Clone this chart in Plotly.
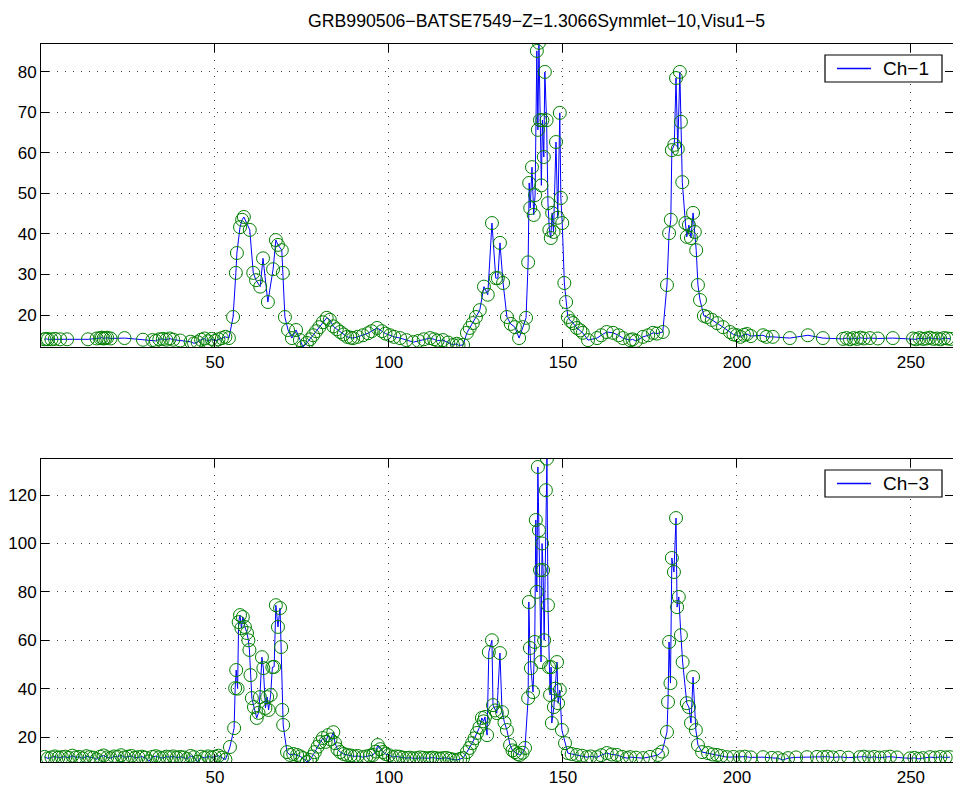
import plotly.graph_objects as go

TITLE = "GRB990506\u2212BATSE7549\u2212Z=1.3066Symmlet\u221210,Visu1\u22125"
NAME1 = "Ch\u22121"
NAME3 = "Ch\u22123"

x_top = [1, 1.5, 2, 3, 4, 5.5, 7.5, 13.5, 16, 17, 17.5, 18, 18.5, 19, 20, 24, 29.3,
         32, 33, 34, 35, 36, 37, 38, 40, 43, 44, 45, 46, 47, 48, 49, 50, 51, 52, 53, 54,
         55.2, 56, 56.3, 57.2, 57.8, 58.3, 60, 61, 61.8, 63, 63.8, 65.2, 66.7, 67.5, 68.1,
         69.2, 69.5, 70.1, 71, 72.1, 73.3, 74.4, 75.3, 76.4, 77.3, 78.2, 79.1, 80, 81, 82.1,
         83, 84, 85, 86, 87, 88, 89, 89.7, 91, 92.5, 94, 95, 96.6, 98, 99, 100.3, 101.5,
         103.2, 105, 107, 108.5, 110, 111.8, 113, 114, 115.5, 117, 118.4, 119.5, 120, 121.3,
         122.4, 123.2, 124.1, 125, 126.1, 127.3, 128.4, 129.6, 130.7, 131.3, 131.9, 132.8,
         133.9, 135, 136.2, 137.4, 138.5, 139.4, 140.0, 140.3, 140.6, 141.1, 141.6, 142.0,
         142.5, 142.8, 143.1, 143.4, 143.8, 144.1, 144.5, 144.8, 145.3, 145.7, 146.1, 146.5,
         146.9, 147.3, 148.0, 148.5, 149.1, 149.4, 149.8, 150.4, 150.9, 151.4, 152.2, 152.9,
         154, 155, 155.7, 157.2, 159.8, 161, 162.6, 164.4, 166, 167.2, 169.3, 170, 171, 173,
         174.5, 175.9, 177, 178.7, 179.9, 180.5, 181, 181.3, 182, 182.5, 183, 183.6, 183.9,
         184.3, 185.2, 185.6, 186.2, 186.8, 187.4, 187.9, 188.3, 188.8, 189.4, 190.5, 191.4,
         192.8, 194.3, 196, 198, 199, 200, 201, 202, 202.9, 204, 207.5, 208.5, 210.3, 215.2,
         220.4, 224.7, 230.5, 231.5, 232.5, 233.5, 234.5, 235.5, 236.5, 238.2, 240.5, 244.8,
         250.6, 251.5, 252.5, 253.5, 254.5, 255.5, 256.5, 257.5, 258.5, 259.5, 260.5, 261.5]
y_top = [14.0, 14.1, 14.0, 14.0, 14.1, 14.0, 14.0, 14.0, 14.2, 14.3, 14.4, 14.2, 14.3, 14.4, 14.2, 14.3, 13.9,
         13.8, 13.6, 14.0, 14.1, 13.9, 14.2, 13.9, 13.7, 13.4, 13.0, 13.3, 13.9, 14.2, 13.5, 14.1, 13.6, 14.0, 14.3, 14.6, 14.3,
         19.5, 30.4, 35.3, 41.7, 43.5, 44.2, 41.0, 30.4, 28.6, 27.0, 34.0, 23.2, 31.3, 38.5, 37.3,
         36.0, 30.4, 19.5, 16.3, 14.3, 16.3, 13.8, 12.1, 13.1, 14.0, 15.0, 16.0, 17.0, 18.2, 19.3,
         18.8, 17.2, 16.5, 15.8, 15.2, 14.6, 14.4, 14.3, 14.6, 15.0, 15.5, 16.0, 16.8, 16.0, 15.4, 15.0, 14.6,
         14.3, 13.8, 13.3, 13.6, 14.0, 14.3, 14.0, 13.7, 13.8, 13.2, 12.6, 12.9, 12.5, 12.6,
         15.6, 16.8, 18.0, 19.5, 21.2, 27.0, 25.0, 42.7, 29.1, 29.1, 37.8, 27.9,
         19.5, 17.8, 17.0, 14.3, 17.0, 19.3, 33.0, 52.6, 46.4, 56.5, 44.7, 49.6,
         85.2, 65.7, 87.2, 68.1, 52.0, 68.1, 59.0, 80.0, 68.1, 47.6, 41.0, 39.0,
         45.2, 40.5, 62.7, 44.0, 69.9, 48.9, 42.7, 27.9, 23.2, 19.5, 18.5, 18.0,
         16.8, 16.2, 15.6, 13.8, 14.3, 15.0, 15.8, 15.6, 15.0, 14.3, 13.8, 14.0, 13.6, 14.6,
         15.0, 15.6, 15.4, 15.8, 27.4, 40.2, 43.5, 60.7, 62.0, 78.5, 61.0, 80.0, 67.7,
         52.8, 42.7, 39.3, 42.2, 39.0, 45.2, 40.5, 36.0, 27.4, 23.7, 19.8, 19.5,
         18.8, 18.0, 17.0, 15.8, 15.2, 15.0, 14.6, 15.1, 15.3, 14.8, 15.0, 14.6, 14.6, 14.3,
         15.0, 14.3, 14.1, 14.3, 14.0, 14.3, 14.1, 14.4, 14.2, 14.3, 14.2, 14.3,
         14.2, 14.0, 14.3, 14.1, 14.2, 14.4, 14.1, 14.2, 14.0, 14.3, 14.2, 14.1]

x_bot = [1, 2, 3, 4, 5, 6, 7, 8, 9, 10, 11, 12, 13, 14, 15, 16, 17, 18, 19, 20, 21, 22, 23, 24, 25,
         26, 27, 28, 29, 30, 31, 32, 33, 34, 35, 36, 37, 38, 39, 40, 41, 42, 43, 44, 45, 46, 47, 48,
         49, 50, 51, 52, 53,
         54.3, 55.5, 55.8, 56.1, 56.5, 56.8, 57.2, 57.6, 58, 58.6, 59.2, 59.6, 59.9, 60.2, 60.6, 61.2,
         62, 62.5, 62.9, 63.5, 63.9, 64.5, 65, 65.4, 66, 66.5, 67, 67.5, 68.1, 68.7, 69.0, 69.3, 69.6,
         70.7, 71.6, 72.5, 73.6, 74.5, 75.3, 76.4, 77.3, 78, 78.7, 79.5, 80.2, 81, 81.8, 82.5, 83.2,
         84, 84.5, 85.2, 86, 87, 88, 89, 90, 91, 92.5, 93.5, 94.5, 95.4, 96.2, 96.8, 97.5, 98.3, 99,
         100, 101.1, 102, 103, 104, 105.2, 106, 107, 108, 109, 110, 111, 111.8, 112.5, 113.5, 114.5,
         115.5, 116.5, 117.5, 118.5, 119.5, 120.5, 121.3, 122.4, 123.2, 123.9, 124.6, 125.3, 126,
         126.7, 127.2, 127.6, 128.2, 128.7, 129.6, 129.9, 130.5, 131, 131.9, 132.5, 133.2, 133.9,
         134.8, 135.5, 136.2, 137, 137.6, 138.4, 139.1, 140, 140.2, 140.5, 140.8, 141.4, 141.9,
         142.2, 142.5, 142.8, 143.1, 143.4, 143.7, 144.0, 144.3, 144.6, 145.1, 145.4, 145.7, 146,
         146.3, 146.6, 146.8, 147.4, 147.8, 148.3, 148.6, 149.1, 149.7, 150.6, 151.4, 152.5, 154,
         155.5, 156.9, 158, 159.8, 161, 162.6, 164, 165.5, 167, 168.4, 169.3, 171, 173, 175, 177.3,
         178.5, 179.9, 180.2, 180.5, 180.9, 181.3, 181.9, 182.5, 182.8, 183.3, 183.9, 184.4, 185.6,
         186.2, 186.8, 187.4, 188.2, 188.8, 190, 191.7, 193, 194.3, 195.5, 197.1, 199, 200.9, 202.3,
         204, 207.5, 210, 211.8, 213.2, 214.7, 217, 220.1, 223, 224.7, 226, 227.5, 229.6, 232, 235.3,
         236.5, 238, 239.5, 241, 242.5, 244, 246, 249.7, 251, 252.2, 253.4, 255.5, 257, 258.5, 260,
         261.2]
y_bot = [11.8, 11.2, 11.6, 12.0, 11.5, 11.7, 11.9, 11.4, 12.3, 11.6, 11.8, 11.2, 12.1, 11.7, 11.5,
         10.8, 11.9, 12.4, 11.6, 11.3, 12.0, 11.8, 12.5, 11.6, 11.9, 12.2, 11.4, 11.7, 11.9, 11.5,
         10.0, 11.8, 12.1, 11.6, 11.3, 11.9, 11.7, 12.0, 11.5, 11.8, 11.6, 10.9, 12.2, 11.7, 9.8,
         11.9, 11.4, 12.0, 11.6, 11.9, 12.3, 11.5, 10.7,
         15.9, 23.7, 40.2, 47.7, 40.0, 67.5, 70.4, 65.0, 69.6, 65.5, 63.0, 60.0, 56.0, 45.6, 36.1, 32.4,
         27.9, 30.0, 36.5, 53.0, 48.5, 32.0, 36.5, 31.2, 37.4, 48.9, 49.0, 74.5, 65.5, 73.3, 57.2, 31.2, 25.0,
         13.8, 12.6, 13.0, 12.6, 12.0, 11.3, 9.7, 10.5, 12.0, 13.8, 16.0, 17.9, 19.6, 18.0, 20.8, 19.0,
         22.0, 17.5, 15.0, 13.8, 13.0, 12.6, 12.4, 12.0, 12.2, 11.7, 12.0, 12.3, 12.6, 14.0, 16.7, 15.0, 13.8, 13.0,
         12.5, 11.7, 12.0, 11.9, 11.5, 11.3, 11.5, 11.2, 11.3, 11.6, 11.4, 11.2, 11.3, 11.5, 11.3, 11.1,
         11.3, 11.4, 11.0, 10.7, 10.5, 11.0, 11.3, 13.8, 15.5, 17.5, 19.5, 21.7, 24.0,
         27.9, 26.5, 28.3, 20.8, 55.1, 60.0, 33.2, 31.0, 29.9, 54.7, 30.3, 26.0, 22.9,
         16.7, 14.5, 13.8, 13.0, 12.6, 13.5, 15.5, 36.1, 75.8, 56.8, 48.5, 38.6, 59.3,
         109.7, 80.0, 131.6, 105.5, 89.0, 51.0, 100.0, 89.0, 60.0, 122.0, 135.0, 74.5, 48.9,
         37.4, 48.9, 25.8, 32.4, 40.0, 51.0, 34.0, 39.4, 22.9, 17.5, 13.4, 13.0, 12.6,
         12.3, 11.7, 12.0, 11.7, 12.5, 13.4, 12.8, 12.6, 11.8, 11.3, 11.7, 11.5, 11.3, 11.8, 12.6,
         14.0, 22.1, 34.5, 59.3, 42.3, 94.0, 88.2, 110.5, 73.7, 77.9, 62.1, 51.0, 34.0,
         32.4, 25.8, 44.8, 22.9, 16.7, 13.8, 13.4, 12.8, 12.6, 12.2, 11.7, 11.8, 11.7, 11.9,
         11.6, 11.7, 11.4, 11.3, 10.5, 11.3, 11.6, 11.7, 11.8, 11.7, 11.9, 11.6, 11.8, 11.5, 11.7,
         11.9, 11.6, 11.8, 11.5, 11.7, 11.9, 11.6, 11.2, 11.4, 11.0, 11.3, 11.7, 11.5, 11.8, 11.6,
         11.7]

x_ticks = [50, 100, 150, 200, 250]
y_ticks_top = [20, 30, 40, 50, 60, 70, 80]
y_ticks_bot = [20, 40, 60, 80, 100, 120]

W, H = 953, 792
FONT = "Liberation Sans, Arial, Helvetica, sans-serif"
BLUE = "#0000ff"
GREEN = "#008000"

fig = go.Figure()

fig.add_trace(go.Scatter(x=x_top, y=y_top, mode="lines", name=NAME1, showlegend=False,
                         line=dict(color=BLUE, width=1), xaxis="x", yaxis="y"))
fig.add_trace(go.Scatter(x=x_top, y=y_top, mode="markers", showlegend=False,
                         marker=dict(symbol="circle-open", size=13, color=GREEN,
                                     line=dict(width=1, color=GREEN)),
                         xaxis="x", yaxis="y"))
fig.add_trace(go.Scatter(x=x_bot, y=y_bot, mode="lines", name=NAME3, showlegend=False,
                         line=dict(color=BLUE, width=1), xaxis="x2", yaxis="y2"))
fig.add_trace(go.Scatter(x=x_bot, y=y_bot, mode="markers", showlegend=False,
                         marker=dict(symbol="circle-open", size=13, color=GREEN,
                                     line=dict(width=1, color=GREEN)),
                         xaxis="x2", yaxis="y2"))

x0 = 41 / W
top_dom = [1 - 347 / H, 1 - 44 / H]
bot_dom = [1 - 762 / H, 1 - 459 / H]

common_ax = dict(showline=True, linecolor="black", linewidth=1, mirror="ticks",
                 ticks="inside", ticklen=8, tickcolor="black",
                 showgrid=True, gridcolor="#444444", gridwidth=1, griddash="1px,7px",
                 zeroline=False, tickfont=dict(family=FONT, size=17, color="black"))


def px(v):
    return v / W


def py(v):
    return 1 - v / H


# hand-drawn legend boxes (MATLAB style)
shapes = []
annotations = []
for name, top, bot in [(NAME1, 55, 82), (NAME3, 470, 497)]:
    mid = (top + bot) / 2
    shapes.append(dict(type="rect", xref="paper", yref="paper",
                       x0=px(825), x1=px(942), y0=py(bot), y1=py(top),
                       line=dict(color="black", width=1.2), fillcolor="white", layer="above"))
    shapes.append(dict(type="line", xref="paper", yref="paper",
                       x0=px(837), x1=px(871), y0=py(mid), y1=py(mid),
                       line=dict(color=BLUE, width=1.3), layer="above"))
    annotations.append(dict(text=name, x=px(881), y=py(mid), xref="paper", yref="paper",
                            xanchor="left", yanchor="middle", showarrow=False,
                            font=dict(family=FONT, size=19, color="black")))

annotations.append(dict(text=TITLE, x=px(536), y=py(21), xref="paper",
                        yref="paper", xanchor="center", yanchor="middle", showarrow=False,
                        font=dict(family=FONT, size=17.7, color="black")))

fig.update_layout(
    width=W, height=H, autosize=False,
    margin=dict(l=0, r=0, t=0, b=0),
    paper_bgcolor="white", plot_bgcolor="white",
    font=dict(family=FONT, size=17, color="black"),
    showlegend=False,
    xaxis=dict(domain=[x0, 1], range=[0, 262.1], tickvals=x_ticks, anchor="y", **common_ax),
    yaxis=dict(domain=top_dom, range=[12.1, 86.9], tickvals=y_ticks_top, anchor="x", **common_ax),
    xaxis2=dict(domain=[x0, 1], range=[0, 262.1], tickvals=x_ticks, anchor="y2", **common_ax),
    yaxis2=dict(domain=bot_dom, range=[9.7, 134.9], tickvals=y_ticks_bot, anchor="x2", **common_ax),
    shapes=shapes,
    annotations=annotations,
)

fig.write_html("out.html")
